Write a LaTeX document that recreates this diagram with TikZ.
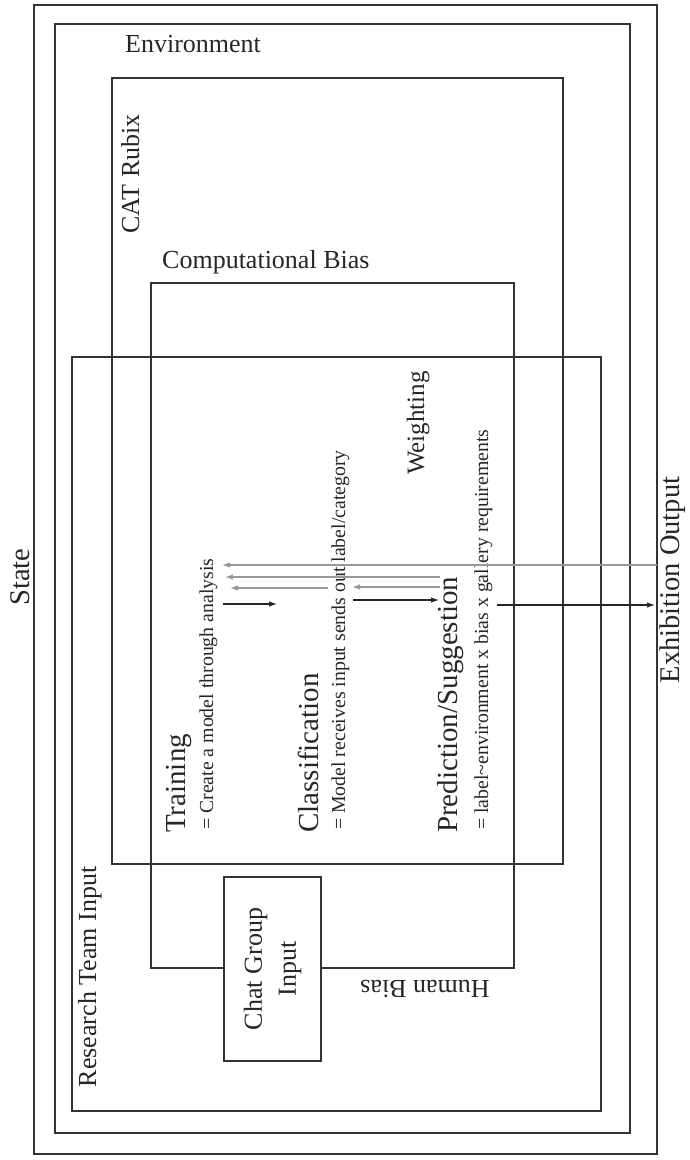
\documentclass[tikz,border=0pt]{standalone}
\usepackage{fontspec}
\setmainfont{Liberation Serif}
\usetikzlibrary{arrows.meta}

\begin{document}
\begin{tikzpicture}[x=1pt, y=-1pt,
  frame/.style={draw=black!80, line width=1.4pt},
  lbl/.style={font=\fontsize{26}{34}\selectfont, text=black!85, inner sep=0pt},
  side/.style={font=\fontsize{28.5}{34}\selectfont, text=black!85, inner sep=0pt},
  stage/.style={font=\fontsize{29}{34}\selectfont, text=black!85, inner sep=0pt, rotate=90, anchor=base west},
  note/.style={font=\fontsize{19.8}{22}\selectfont, text=black!85, inner sep=0pt, rotate=90, anchor=base west},
  arr/.style={-{Latex[length=8pt,width=5.5pt]}, line width=1.1pt, draw=black!85},
  back/.style={arr, draw=black!40}
]
\useasboundingbox (0,0) rectangle (690,1160);

% nested frames
\draw[frame] (34,5) rectangle (657,1154);
\draw[frame] (55,24) rectangle (630,1133);
\draw[frame] (112,78) rectangle (563,864);
\draw[frame] (151,283) rectangle (514,968);
\draw[frame] (72,357) rectangle (601,1111);

% frame labels
\node[side, rotate=90, anchor=base] (state) at (29,577) {State};
\node[lbl, anchor=base west] (env) at (125,52) {Environment};
\node[lbl, rotate=90, anchor=base] (cat) at (139,174) {CAT Rubix};
\node[lbl, anchor=base west] (comp) at (162,268) {Computational Bias};
\node[lbl, rotate=90, anchor=base] (team) at (96,977) {Research Team Input};
\node[lbl, rotate=180, anchor=base] (human) at (425,980) {Human Bias};
\node[side, rotate=90, anchor=base] (exhib) at (679,580) {Exhibition Output};

\node[lbl, frame, fill=white, rotate=90, align=center,
  minimum width=184pt, minimum height=97pt] (chat) at (272.5,969) {Chat Group\\Input};

% stages
\node[stage] (train) at (185,833) {Training};
\node[note] (trainsub) at (213,830) {= Create a model through analysis};
\node[stage] (class) at (318,833) {Classification};
\node[note] (classsub) at (345,830) {= Model receives input sends out label/category};
\node[stage] (pred) at (457,833) {Prediction/Suggestion};
\node[note] (predsub) at (488,830) {= label\textasciitilde environment x bias x gallery requirements};
\node[stage, font=\fontsize{25}{30}\selectfont] (weight) at (424,475) {Weighting};

% feed-forward and feedback arrows
\coordinate (b1s) at (223,604); \coordinate (b1e) at (277,604);
\coordinate (b2s) at (353,600); \coordinate (b2e) at (439,600);
\coordinate (b3s) at (497,605); \coordinate (b3e) at (655,605);
\coordinate (g1s) at (657,565); \coordinate (g1e) at (222,565);
\coordinate (g2s) at (440,577); \coordinate (g2e) at (225,577);
\coordinate (g3s) at (328,588); \coordinate (g3e) at (230,588);
\coordinate (g4s) at (440,587); \coordinate (g4e) at (352,587);
\draw[arr] (b1s) -- (b1e);
\draw[arr] (b2s) -- (b2e);
\draw[arr] (b3s) -- (b3e);
\draw[back] (g1s) -- (g1e);
\draw[back] (g2s) -- (g2e);
\draw[back] (g3s) -- (g3e);
\draw[back] (g4s) -- (g4e);
\end{tikzpicture}
\end{document}
